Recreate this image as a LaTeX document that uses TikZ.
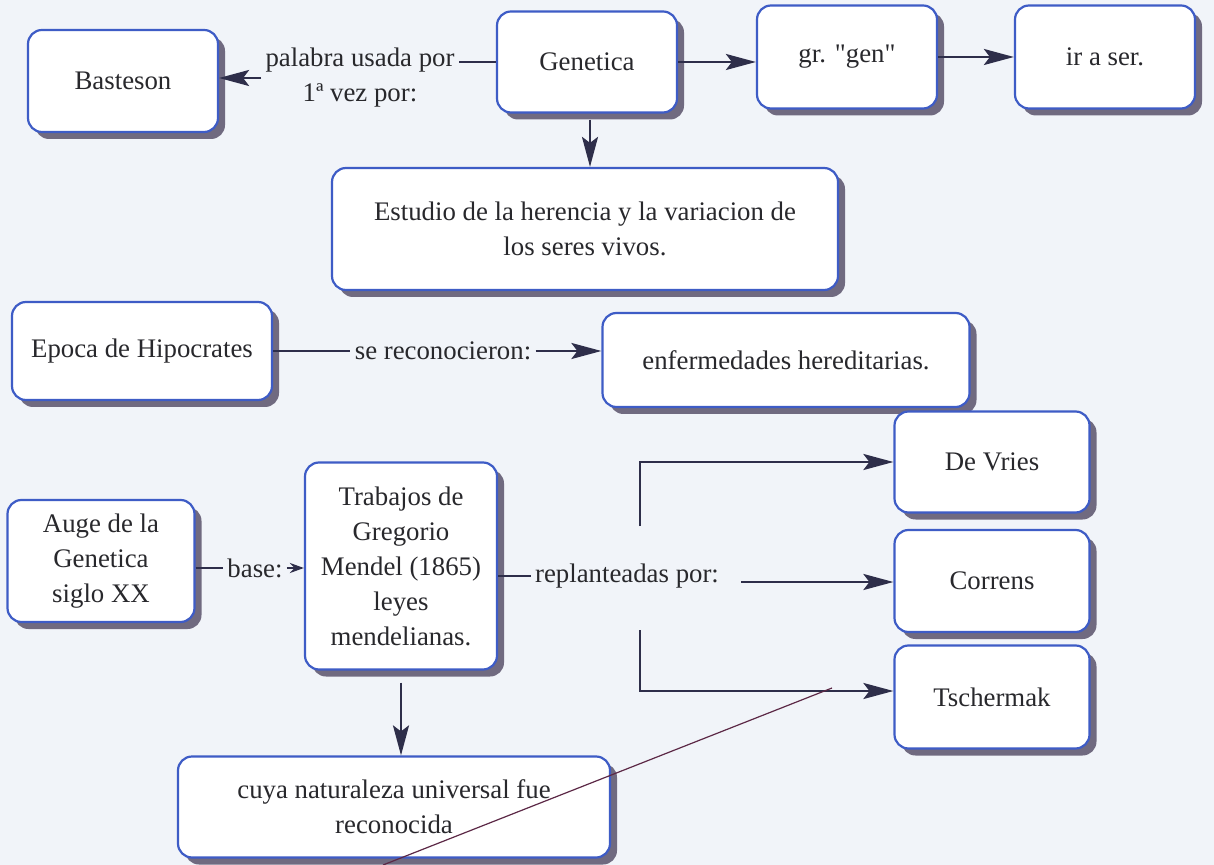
\documentclass[tikz,border=0pt]{standalone}
\usepackage{fontspec}
\setmainfont{Liberation Serif}
\newfontfamily\mapfont{Liberation Serif}
\usepackage{xcolor}
\usetikzlibrary{arrows.meta, positioning, shadows}
\definecolor{mapblue}{RGB}{62,92,198}
\definecolor{mapshadow}{RGB}{112,106,128}
\definecolor{mapink}{RGB}{46,46,74}
\definecolor{maptext}{RGB}{40,40,44}
\definecolor{mapbg}{RGB}{241,244,249}
\definecolor{mappen}{RGB}{92,40,70}

\begin{document}
\begin{tikzpicture}[x=0.5pt, y=-0.5pt,
    font=\mapfont\fontsize{13.4}{17.5}\selectfont, text=maptext,
    cbox/.style={draw=mapblue, line width=1.1pt, rounded corners=7pt, fill=white, align=center,
      drop shadow={shadow xshift=3.5pt, shadow yshift=-3.5pt, fill=mapshadow, opacity=1}},
    link/.style={draw=mapink, line width=1.3pt},
    arr/.style={link, -{Stealth[length=15pt, width=8pt, inset=3pt]}},
    arrsmall/.style={link, -{Stealth[length=7pt, width=5pt]}},
    lbl/.style={inner sep=2pt, align=center}]
  \fill[mapbg, use as bounding box] (0,0) rectangle (1214,865);

  % single-line boxes
  \foreach \n/\x/\y/\w/\h/\t in {basteson/123/81/95/51/{Basteson}, genetica/587/62/90/50.5/{Genetica},
      gen/847/57/90/51.5/{gr. {\char34}gen{\char34}}, irser/1105/57/90/51.5/{ir a ser.},
      epoca/142/351/130/49/{Epoca de Hipocrates}, enferm/786/360/183.5/47/{enfermedades hereditarias.},
      devries/992/462/97.5/50.5/{De Vries}, correns/992/581/97.5/51/{Correns},
      tscherm/992/697/97.5/51.5/{Tschermak}}{
    \node[cbox, minimum width=\w pt, minimum height=\h pt] (\n) at (\x,\y) {\t};
  }
  \node[cbox, minimum width=253pt, minimum height=61pt] (estudio) at (585,229)
    {Estudio de la herencia y la variacion de\\los seres vivos.};
  \node[cbox, minimum width=93.5pt, minimum height=61pt] (auge) at (101,561)
    {Auge de la\\Genetica\\siglo XX};
  \node[cbox, minimum width=96pt, minimum height=103.5pt] (mendel) at (401,566)
    {Trabajos de\\Gregorio\\Mendel (1865)\\leyes\\mendelianas.};
  \node[cbox, minimum width=216pt, minimum height=50.5pt] (cuya) at (394,807)
    {cuya naturaleza universal fue\\reconocida};

  % linking words
  \node[lbl] (palabra) at (360,78) {palabra usada por\\1ª vez por:};
  \node[lbl] (recon) at (443,351) {se reconocieron:};
  \node[lbl] (base) at (255,568) {base:};
  \node[lbl] (replant) at (627,576) {replanteadas por:};
  \coordinate (repup) at (640,526);
  \coordinate (repdn) at (640,630);

  % connectors
  \draw[link] (genetica.west) -- (genetica.west -| palabra.east);
  \draw[arr] (palabra.west) -- (palabra.west -| basteson.east);
  \draw[arr] (genetica.east) -- (genetica.east -| gen.west);
  \draw[arr] (gen.east) -- (gen.east -| irser.west);
  \draw[arr] ([xshift=1.5pt, yshift=-3pt]genetica.south) -- ([xshift=1.5pt]genetica.south |- estudio.north);
  \draw[link] (epoca.east) -- (recon.west);
  \draw[arr] (recon.east) -- (recon.east -| enferm.west);
  \draw[link] (auge.east |- base.west) -- (base.west);
  \draw[arrsmall] (base.east) -- (base.east -| mendel.west);
  \draw[link] (mendel.east |- replant.west) -- (replant.west);
  \draw[arr] (repup) |- (devries.west);
  \draw[arr] ([xshift=9pt, yshift=-3pt]replant.east) -- ([yshift=-3pt]replant.east -| correns.west);
  \draw[arr] (repdn) |- ([yshift=3pt]tscherm.west);
  \draw[arr] ([yshift=-6pt]mendel.south) -- (mendel.south |- cuya.north);

  \draw[mappen, line width=0.6pt] (383,865) -- (832,688);
\end{tikzpicture}
\end{document}
